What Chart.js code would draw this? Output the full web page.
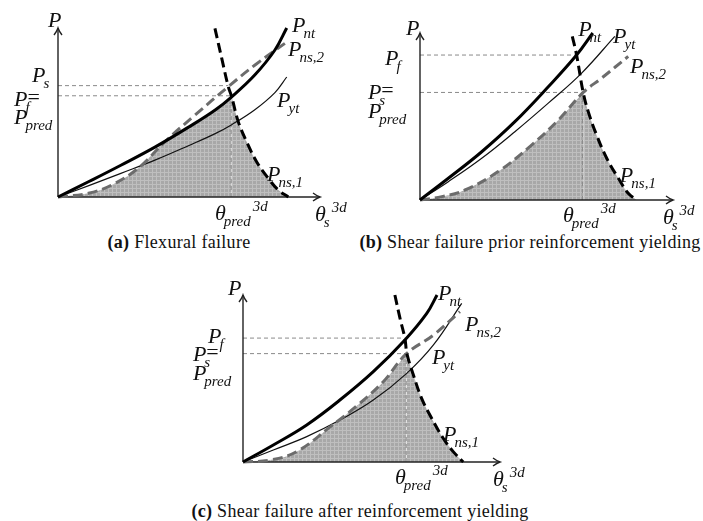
<!DOCTYPE html>
<html lang="en">
<head>
<meta charset="utf-8">
<title>Failure modes</title>
<script src="https://cdn.jsdelivr.net/npm/chart.js@4.4.1/dist/chart.umd.min.js"></script>
<style>
  body { margin: 0; background: #fff; width: 703px; height: 521px; position: relative; overflow: hidden; }
  canvas { position: absolute; }
  .cap { position: absolute; font-family: "Liberation Serif", serif; font-size: 18px; letter-spacing: 0.3px; color: #111;
         white-space: nowrap; transform: translateX(-50%); line-height: 20px; }
  .pre { position: absolute; left: -500px; top: 0; font: italic 22px "Liberation Serif"; }
</style>
</head>
<body>
<span class="pre">P θ</span>
<canvas id="chartA" width="352" height="232" style="left:0;top:0"></canvas>
<canvas id="chartB" width="351" height="232" style="left:352px;top:0"></canvas>
<canvas id="chartC" width="345" height="233" style="left:190px;top:262px"></canvas>
<div class="cap" style="left:179px;top:232px"><b>(a)</b> Flexural failure</div>
<div class="cap" style="left:530px;top:232px"><b>(b)</b> Shear failure prior reinforcement yielding</div>
<div class="cap" style="left:360px;top:501px"><b>(c)</b> Shear failure after reinforcement yielding</div>
<script>
// curves, [theta, P] in axis units (0..100)
// (a) flexural failure
var pntA   = [[0,0],[12,9.3],[24,18.8],[37,29.5],[50,41.5],[60,51.5],[66.3,59.3],[75,72],[82.8,87],[87.3,100]];
var pytA   = [[0,0],[12,6.9],[24,14],[37,21.8],[50,30.5],[60,37.5],[66.3,42.8],[75,51.5],[82.8,61.8],[87.3,71]];
var pns2A  = [[0,0],[11.6,2.2],[20.5,7.1],[30.6,17],[40.8,32.7],[52.3,48.5],[65,65.3],[75.2,78.1],[86.6,90.9]];
var pns1A  = [[59.9,99.8],[62.5,82],[65,65.3],[66.3,59.3],[68.8,44.6],[72,32.7],[75.8,20.9],[80.3,11],[84.1,4.1],[87.9,0]];
var riseA  = [[0,0],[11.6,2.2],[20.5,7.1],[30.6,17],[40.8,32.7],[50,41.5],[60,51.5],[66.3,59.3]];
var fallA  = [[66.3,59.3],[68.8,44.6],[72,32.7],[75.8,20.9],[80.3,11],[84.1,4.1],[87.9,0]];
var levelsA = [[65,65.9],[66.3,59.9]];   // Ps, Pf  (x end, P)
var thetaA  = [66.1, 59.9];

// (b) shear failure prior reinforcement yielding
var pntB   = [[0,0],[11.2,13],[24.4,28.9],[37.5,46.9],[50.7,67.8],[61.9,86.8],[68.3,100]];
var pytB   = [[0,0],[11.2,11],[24.4,25],[37.5,40.9],[50.7,58],[63.9,76],[77,98]];
var pns2B  = [[0,0],[8.6,2],[17.8,6],[30.9,17],[44.1,32.9],[54.7,47.9],[64.5,64.4],[71.8,73],[82.3,86]];
var pns1B  = [[60.2,98],[61.9,86.8],[64.5,64.4],[66.5,52.9],[69.8,38.9],[73.8,25],[78.4,13],[82.3,4],[85.6,0]];
var riseB  = [[0,0],[8.6,2],[17.8,6],[30.9,17],[44.1,32.9],[54.7,47.9],[64.5,64.4]];
var fallB  = [[64.5,64.4],[66.5,52.9],[69.8,38.9],[73.8,25],[78.4,13],[82.3,4],[85.6,0]];
var levelsB = [[61.9,86.8],[64.5,64.4]]; // Pf, Ps
var thetaB  = [64.2, 64.4];

// (c) shear failure after reinforcement yielding
var pntC   = [[0,0],[11.8,10.2],[24.8,22.2],[37.7,37.1],[50.7,54.1],[63,73.1],[71.5,89],[75.5,100]];
var pytC   = [[0,0],[11.8,7.2],[24.8,15.2],[37.7,25.1],[50.7,37.1],[63.7,53.1],[74.1,70.1],[85.1,95]];
var pns2C  = [[0,0],[10.5,1.2],[20.9,6.2],[33.9,21],[44.2,33.5],[54.6,48.1],[63.5,64.7],[74.1,76],[84.4,90]];
var pns1C  = [[59.1,100],[61.1,86],[63,74],[63.8,64.7],[66.3,52.1],[69.5,38.1],[73.4,26.2],[77.9,14.2],[81.8,6.2],[85.7,0]];
var riseC  = [[0,0],[10.5,1.2],[20.9,6.2],[33.9,21],[44.2,33.5],[54.6,48.1],[63.6,64.7]];
var fallC  = [[63.6,64.7],[66.3,52.1],[69.5,38.1],[73.4,26.2],[77.9,14.2],[81.8,6.2],[85.7,0]];
var levelsC = [[62.8,74.2],[63.6,64.9]]; // Pf, Ps
var thetaC  = [63.5, 64.9];

// text labels: anchor (left, baseline) in axis units
var labelsA = [
  {u:-3.8, v:100.6, base:'P'},
  {u:89.3, v:97.6, base:'P', sub:'nt'},
  {u:87.8, v:83.4, base:'P', sub:'ns,2'},
  {u:83.6, v:53.3, base:'P', sub:'yt'},
  {u:79.8, v:9.5,  base:'P', sub:'ns,1'},
  {u:59.9, v:-13.6, base:'θ', sub:'pred', sup:'3d'},
  {u:98.1, v:-14.2, base:'θ', sub:'s', sup:'3d'},
  {u:-9.9, v:68,   base:'P', sub:'s'},
  {u:-16.8, v:53.8, base:'P', sub:'f', tail:'='},
  {u:-16.8, v:43.2, base:'P', sub:'pred'}
];
var labelsB = [
  {u:-5.5, v:98.8, base:'P'},
  {u:62.5, v:98.2, base:'P', sub:'nt'},
  {u:76.3, v:94,   base:'P', sub:'yt'},
  {u:-13.8, v:80.8, base:'P', sub:'f'},
  {u:83,   v:76,   base:'P', sub:'ns,2'},
  {u:-20.6, v:60.5, base:'P', sub:'s', tail:'='},
  {u:-20.6, v:49.1, base:'P', sub:'pred'},
  {u:79,   v:10.8, base:'P', sub:'ns,1'},
  {u:56.5, v:-13.2, base:'θ', sub:'pred', sup:'3d'},
  {u:96,   v:-14.4, base:'θ', sub:'s', sup:'3d'}
];
var labelsC = [
  {u:-5.8, v:100,  base:'P'},
  {u:75.9, v:97,   base:'P', sub:'nt'},
  {u:86.4, v:78.4, base:'P', sub:'ns,2'},
  {u:-13.6, v:71.3, base:'P', sub:'f'},
  {u:-19.5, v:60.5, base:'P', sub:'s', tail:'='},
  {u:-19.5, v:49.1, base:'P', sub:'pred'},
  {u:73.5, v:58.7, base:'P', sub:'yt'},
  {u:77.8, v:12.6, base:'P', sub:'ns,1'},
  {u:59.1, v:-13.2, base:'θ', sub:'pred', sup:'3d'},
  {u:97.3, v:-14.4, base:'θ', sub:'s', sup:'3d'}
];

var SERIF = '"Liberation Serif", serif';

function pts(a) {
  return a.map(function (p) { return {x: p[0], y: p[1]}; });
}

function shadePattern() {
  var c = document.createElement('canvas');
  c.width = 4; c.height = 4;
  var g = c.getContext('2d');
  g.fillStyle = '#a8a8a8';
  g.fillRect(0, 0, 4, 4);
  g.fillStyle = '#bfbfbf';
  g.fillRect(0, 0, 4, 1);
  g.fillRect(0, 0, 1, 4);
  return g.createPattern(c, 'repeat');
}

function drawMath(ctx, x, y, l) {
  ctx.fillStyle = '#111';
  ctx.textBaseline = 'alphabetic';
  ctx.font = 'italic 22px ' + SERIF;
  ctx.fillText(l.base, x, y);
  var w = ctx.measureText(l.base).width;
  var sx = x + w - 2;
  if (l.sub) {
    ctx.font = 'italic 15px ' + SERIF;
    ctx.fillText(l.sub, sx, y + 6);
    sx += ctx.measureText(l.sub).width;
  }
  if (l.sup) {
    ctx.font = 'italic 15px ' + SERIF;
    ctx.fillText(l.sup, sx + 2, y - 9);
  }
  if (l.tail) {
    ctx.font = '22px ' + SERIF;
    ctx.fillText(l.tail, x + w, y - 2);
  }
}

// arrow heads + labels
var decor = {
  id: 'decor',
  afterDraw: function (chart) {
    var ctx = chart.ctx, xs = chart.scales.x, ys = chart.scales.y;
    var ox = xs.getPixelForValue(0), oy = ys.getPixelForValue(0);
    var tx = xs.getPixelForValue(100), ty = ys.getPixelForValue(100);
    ctx.save();
    ctx.strokeStyle = '#222';
    ctx.lineWidth = 1.4;
    ctx.beginPath();
    ctx.moveTo(tx - 7, oy - 4); ctx.quadraticCurveTo(tx - 3, oy - 1, tx, oy); ctx.quadraticCurveTo(tx - 3, oy + 1, tx - 7, oy + 4);
    ctx.moveTo(ox - 4, ty + 7); ctx.quadraticCurveTo(ox - 1, ty + 3, ox, ty); ctx.quadraticCurveTo(ox + 1, ty + 3, ox + 4, ty + 7);
    ctx.stroke();
    chart.options.plugins.decor.labels.forEach(function (l) {
      drawMath(ctx, xs.getPixelForValue(l.u), ys.getPixelForValue(l.v), l);
    });
    ctx.restore();
  }
};

function makePanel(id, pad, s) {
  var pat = shadePattern();
  var guide = {borderColor: '#8a8a8a', borderWidth: 1, borderDash: [4, 3], pointRadius: 0, tension: 0, clip: false, order: 9};
  var curve = {pointRadius: 0, tension: 0.4, clip: false};
  var datasets = [
    {data: pts(s.rise), borderWidth: 0, borderColor: 'rgba(0,0,0,0)', backgroundColor: pat,
     fill: 'origin', pointRadius: 0, tension: 0.4, clip: false, order: 11},
    {data: pts(s.fall), borderWidth: 0, borderColor: 'rgba(0,0,0,0)', backgroundColor: pat,
     fill: 'origin', pointRadius: 0, tension: 0.4, clip: false, order: 10},
    Object.assign({data: pts([[0, s.levels[0][1]], s.levels[0]])}, guide),
    Object.assign({data: pts([[0, s.levels[1][1]], s.levels[1]])}, guide),
    Object.assign({data: pts([[s.theta[0], 0], s.theta])}, guide),
    {data: pts([[0,0],[100,0]]), borderColor: '#222', borderWidth: 1.4, pointRadius: 0, clip: false, order: 8},
    {data: pts([[0,0],[0,100]]), borderColor: '#222', borderWidth: 1.4, pointRadius: 0, clip: false, order: 8},
    Object.assign({data: pts(s.pyt), borderColor: '#111', borderWidth: 1.2, order: 4}, curve),
    Object.assign({data: pts(s.pns2), borderColor: '#6c6c6c', borderWidth: 3, borderDash: [10, 5], order: 3}, curve),
    Object.assign({data: pts(s.pnt), borderColor: '#000', borderWidth: 3, order: 2}, curve),
    Object.assign({data: pts(s.pns1), borderColor: '#000', borderWidth: 3, borderDash: [10, 5], order: 1}, curve)
  ];
  return new Chart(document.getElementById(id), {
    type: 'scatter',
    data: {datasets: datasets.map(function (d) { d.showLine = true; return d; })},
    options: {
      responsive: false,
      animation: false,
      devicePixelRatio: 1,
      layout: {padding: pad},
      scales: {
        x: {type: 'linear', min: 0, max: 100, display: false},
        y: {type: 'linear', min: 0, max: 100, display: false}
      },
      plugins: {legend: {display: false}, tooltip: {enabled: false}, decor: {labels: s.labels}}
    },
    plugins: [decor]
  });
}

function drawAll() {
  makePanel('chartA', {left: 58, right: 32, top: 28, bottom: 35},
    {pnt: pntA, pyt: pytA, pns2: pns2A, pns1: pns1A, rise: riseA, fall: fallA, levels: levelsA, theta: thetaA, labels: labelsA});
  makePanel('chartB', {left: 68, right: 30, top: 33, bottom: 32},
    {pnt: pntB, pyt: pytB, pns2: pns2B, pns1: pns1B, rise: riseB, fall: fallB, levels: levelsB, theta: thetaB, labels: labelsB});
  makePanel('chartC', {left: 53, right: 35, top: 33, bottom: 33},
    {pnt: pntC, pyt: pytC, pns2: pns2C, pns1: pns1C, rise: riseC, fall: fallC, levels: levelsC, theta: thetaC, labels: labelsC});
}

if (document.fonts && document.fonts.load) {
  Promise.all([
    document.fonts.load('italic 22px "Liberation Serif"'),
    document.fonts.load('22px "Liberation Serif"')
  ]).then(drawAll, drawAll);
} else {
  drawAll();
}
</script>
</body>
</html>
